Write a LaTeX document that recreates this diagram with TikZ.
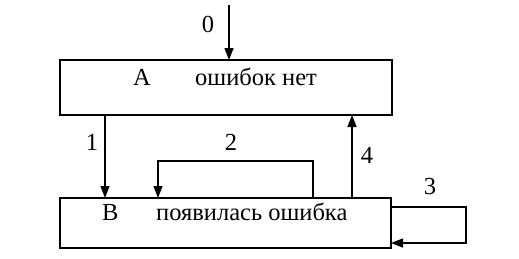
\documentclass[tikz,border=0pt]{standalone}
\usepackage{fontspec}
\setmainfont{Liberation Serif}
\usetikzlibrary{arrows.meta}
\begin{document}
\begin{tikzpicture}[x=1pt,y=-1pt,
  box/.style={draw,line width=1.4pt,rectangle,inner sep=0pt,outer sep=0pt},
  txt/.style={inner sep=0pt,anchor=base west,font=\fontsize{24.5}{28}\selectfont},
  lbl/.style={inner sep=0pt,font=\fontsize{24.5}{28}\selectfont},
  arr/.style={line width=1.3pt,-{Triangle[length=12pt,width=9pt]}}]
\useasboundingbox (0,0) rectangle (519,258);
\node[box,minimum width=332pt,minimum height=55pt] (A) at (226,87.5) {};
\node[box,minimum width=331pt,minimum height=50pt] (B) at (225.5,223) {};
\node[txt] (tA) at (133,85) {A};
\node[txt] (tA2) at (195,85) {ошибок нет};
\node[txt] (tB) at (102,220) {B};
\node[txt] (tB2) at (156,220) {появилась ошибка};
% arrow 0
\coordinate (c0) at (229,5);
\draw[arr] (c0) -- (c0 |- A.north);
\node[lbl] (l0) at (208,24) {0};
% arrow 1
\coordinate (c1) at (105,0);
\draw[arr] (c1 |- A.south) -- (c1 |- B.north);
\node[lbl] (l1) at (92,142) {1};
% arrow 2
\coordinate (c2a) at (313,161);
\coordinate (c2b) at (158,161);
\draw[arr] (c2a |- B.north) -- (c2a) -- (c2b) -- (c2b |- B.north);
\node[lbl] (l2) at (231,142) {2};
% arrow 4
\coordinate (c4) at (352,0);
\draw[arr] (c4 |- B.north) -- (c4 |- A.south);
\node[lbl] (l4) at (367,155) {4};
% arrow 3
\coordinate (c3a) at (466,207);
\coordinate (c3b) at (466,243);
\draw[arr] (B.east |- c3a) -- (c3a) -- (c3b) -- (B.east |- c3b);
\node[lbl] (l3) at (430,187) {3};
\end{tikzpicture}
\end{document}
